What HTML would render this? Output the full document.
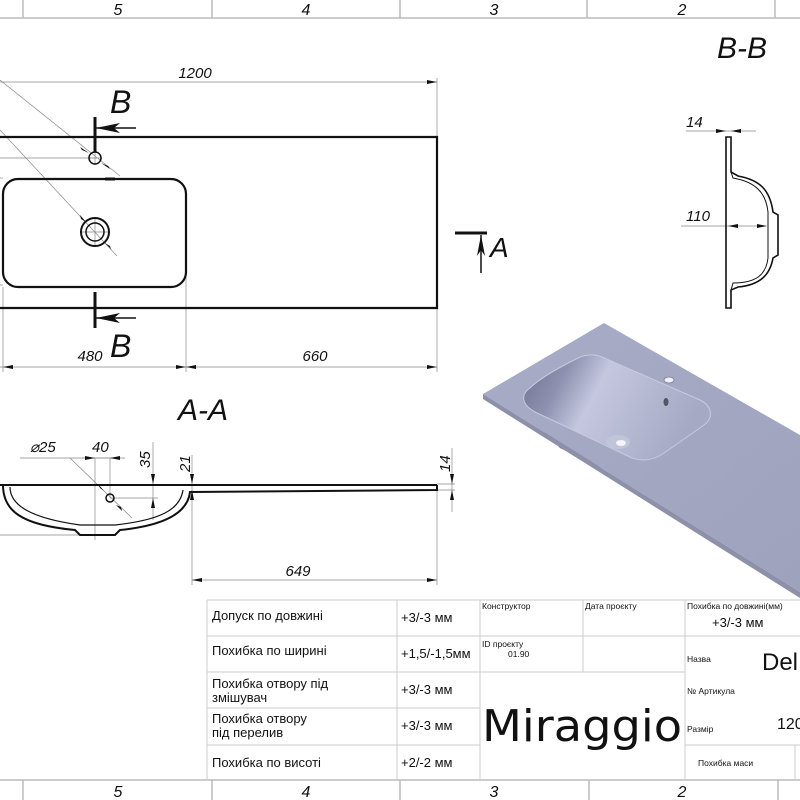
<!DOCTYPE html>
<html><head><meta charset="utf-8"><style>
html,body{margin:0;padding:0;background:#fff;}
svg{display:block;}
text{font-family:"Liberation Sans",sans-serif;}
.it{font-style:italic;}
.t{font-family:"DejaVu Sans Condensed","Liberation Sans Narrow","Liberation Sans",sans-serif;}
</style></head><body>
<svg width="800" height="800" viewBox="0 0 800 800" xmlns="http://www.w3.org/2000/svg">
<defs>
<linearGradient id="bg" x1="0" y1="0" x2="1" y2="0.3">
<stop offset="0" stop-color="#6d7190"/><stop offset="0.25" stop-color="#8e92b0"/><stop offset="0.45" stop-color="#c4c7de"/><stop offset="1" stop-color="#a6a9c4"/>
</linearGradient>
<linearGradient id="pg" x1="0" y1="0" x2="1" y2="1">
<stop offset="0" stop-color="#a9acc6"/><stop offset="1" stop-color="#9ea2bc"/>
</linearGradient>
</defs>
<!-- top strip -->
<g stroke="#bbb" stroke-width="1.5" fill="none">
<line x1="0" y1="18" x2="800" y2="18"/>
<line x1="23" y1="0" x2="23" y2="18"/><line x1="212" y1="0" x2="212" y2="18"/>
<line x1="400" y1="0" x2="400" y2="18"/><line x1="587" y1="0" x2="587" y2="18"/><line x1="775" y1="0" x2="775" y2="18"/>
<line x1="0" y1="780" x2="800" y2="780"/>
<line x1="23" y1="780" x2="23" y2="800"/><line x1="212" y1="780" x2="212" y2="800"/>
<line x1="400" y1="780" x2="400" y2="800"/><line x1="589" y1="780" x2="589" y2="800"/><line x1="778" y1="780" x2="778" y2="800"/>
</g>
<g class="it" font-size="16" text-anchor="middle" fill="#111">
<text x="118" y="15">5</text><text x="306" y="15">4</text><text x="494" y="15">3</text><text x="682" y="15">2</text>
<text x="118" y="797">5</text><text x="306" y="797">4</text><text x="494" y="797">3</text><text x="682" y="797">2</text>
</g>

<!-- plan view -->
<g stroke="#888" stroke-width="0.7" fill="none">
<line x1="0" y1="82" x2="437" y2="82"/>
<line x1="437" y1="78" x2="437" y2="137"/>
<line x1="0" y1="367" x2="437" y2="367"/>
<line x1="3" y1="287" x2="3" y2="372"/><line x1="186" y1="240" x2="186" y2="372"/><line x1="437" y1="308" x2="437" y2="372"/>
<line x1="0" y1="80" x2="120" y2="176"/><line x1="0" y1="130" x2="117" y2="256"/>
<line x1="0" y1="158" x2="95" y2="158"/><line x1="0" y1="178" x2="3" y2="178"/>
<line x1="0" y1="285" x2="3" y2="285"/>
<line x1="88" y1="158" x2="102" y2="158"/><line x1="95" y1="151" x2="95" y2="165"/>
<line x1="80" y1="232" x2="110" y2="232"/><line x1="95" y1="217" x2="95" y2="247"/>
</g>
<g fill="#111">
<polygon points="437,82 427,80 427,84"/>
<polygon points="3,367 13,365 13,369"/><polygon points="186,367 176,365 176,369"/>
<polygon points="186,367 196,365 196,369"/><polygon points="437,367 427,365 427,369"/>
<polygon points="89,153 80,147 82,150"/><polygon points="101,163 110,169 108,166"/>
<polygon points="86,222 80,215 81,219"/><polygon points="105,243 111,249 110,246"/>
</g>
<g stroke="#111" stroke-width="2.2" fill="none">
<path d="M0 137 H437 V308 H0"/>
<rect x="3" y="179" width="183" height="108" rx="15"/>
<circle cx="95" cy="158" r="6" stroke-width="1.5"/>
<circle cx="95" cy="232" r="14" stroke-width="2"/><circle cx="95" cy="232" r="9" stroke-width="1.5"/>
<line x1="95" y1="117" x2="95" y2="152" stroke-width="3"/>
<line x1="95" y1="292" x2="95" y2="328" stroke-width="3"/>
<line x1="95" y1="128" x2="136" y2="128" stroke-width="1.5"/>
<line x1="95" y1="318" x2="136" y2="318" stroke-width="1.5"/>
<line x1="105" y1="179" x2="115" y2="179" stroke-width="3"/>
</g>
<polygon points="96,128 120,123 114,128 120,133" fill="#111"/>
<polygon points="96,318 120,313 114,318 120,323" fill="#111"/>
<g class="it" fill="#111">
<text x="195" y="78" font-size="15" text-anchor="middle">1200</text>
<text x="90" y="361" font-size="15" text-anchor="middle">480</text>
<text x="315" y="361" font-size="15" text-anchor="middle">660</text>
<text x="110" y="113" font-size="32">B</text>
<text x="110" y="357" font-size="32">B</text>
<text x="178" y="420" font-size="30">A-A</text>
<text x="717" y="58" font-size="30">B-B</text>
<text x="490" y="257" font-size="28">A</text>
</g>
<!-- A marker -->
<g stroke="#111" fill="none">
<line x1="455" y1="233" x2="487" y2="233" stroke-width="3"/>
<line x1="481" y1="235" x2="481" y2="273" stroke-width="1.5"/>
</g>
<polygon points="481,235 477,256 481,250 485,256" fill="#111"/>

<!-- A-A section -->
<g stroke="#888" stroke-width="0.7" fill="none">
<line x1="20" y1="458" x2="120" y2="458"/>
<line x1="70" y1="458" x2="132" y2="518"/>
<line x1="95" y1="458" x2="95" y2="540"/><line x1="110" y1="458" x2="110" y2="498"/>
<line x1="82" y1="458" x2="125" y2="458"/>
<line x1="110" y1="498" x2="158" y2="498"/>
<line x1="153" y1="442" x2="153" y2="520"/>
<line x1="192" y1="455" x2="192" y2="585"/>
<line x1="192" y1="580" x2="437" y2="580"/>
<line x1="437" y1="490" x2="437" y2="585"/>
<line x1="437" y1="484" x2="455" y2="484"/><line x1="437" y1="490" x2="455" y2="490"/>
<line x1="452" y1="448" x2="452" y2="512"/>
<line x1="0" y1="535" x2="80" y2="535"/>
<line x1="140" y1="485" x2="170" y2="485"/>
</g>
<g fill="#111">
<polygon points="192,580 202,578 202,582"/><polygon points="437,580 427,578 427,582"/>
<polygon points="153,484 151,474 155,474"/><polygon points="153,498 151,508 155,508"/>
<polygon points="192,484 190,474 194,474"/><polygon points="192,490 190,500 194,500"/>
<polygon points="452,484 450,474 454,474"/><polygon points="452,490 450,500 454,500"/>
<polygon points="95,458 85,456 85,460"/><polygon points="110,458 120,456 120,460"/>
<polygon points="104,491 98,484 100,488"/><polygon points="116,505 122,511 121,507"/>
</g>
<g stroke="#111" stroke-width="2" fill="none">
<line x1="0" y1="485" x2="437" y2="485"/>
<path d="M3 485 C3 510 20 525 75 530 L80 535 L115 535 L120 530 C170 525 188 510 190 492 L437 490 L437 485"/>
<path d="M10 487 C10 505 30 518 80 525 L115 525 C160 520 180 510 183 490" stroke-width="1.2"/>
<circle cx="110" cy="498" r="4" stroke-width="1.5"/>
</g>
<g class="it" fill="#111" font-size="15">
<text x="30" y="452">⌀25</text>
<text x="92" y="452">40</text>
<text x="150" y="468" transform="rotate(-90 150 468)">35</text>
<text x="190" y="472" transform="rotate(-90 190 472)">21</text>
<text x="450" y="472" transform="rotate(-90 450 472)">14</text>
<text x="298" y="576" text-anchor="middle">649</text>
<text x="686" y="127">14</text>
<text x="686" y="221">110</text>
</g>

<!-- B-B section -->
<g stroke="#888" stroke-width="0.7" fill="none">
<line x1="686" y1="131" x2="756" y2="131"/>
<line x1="681" y1="226" x2="766" y2="226"/>
</g>
<g fill="#111">
<polygon points="726,131 716,129 716,133"/><polygon points="731,131 741,129 741,133"/>
<polygon points="728,226 738,224 738,228"/><polygon points="767,226 757,224 757,228"/>
</g>
<g stroke="#111" stroke-width="1.6" fill="none">
<path d="M726 137 V308 H731 V290 L738 287 C760 285 770 275 773 258 L778 255 V215 L773 212 C770 190 760 180 738 176 L731 172 V137 Z"/>
<path d="M731 172 L733 178 C756 182 766 193 768 212 L768 258 C766 275 756 283 733 283 L731 290" stroke-width="1"/>
</g>

<!-- 3D -->
<polygon points="540,428 560,448 610,472 640,475 600,455" fill="#3e4258" opacity="0.8"/>
<polygon points="483,394 604,323 800,435 800,592" fill="url(#pg)"/>
<polygon points="483,394 800,592 800,598 483,399" fill="#8d90a8"/>
<path d="M530,388 C540,378 560,367 578,358 C586,354 594,354 602,357 L700,400 C712,406 714,418 704,425 L664,453 C654,460 644,462 632,458 L535,412 C522,405 520,395 530,388 Z" fill="url(#bg)" stroke="#c8cade" stroke-width="1"/>
<ellipse cx="669" cy="380" rx="5" ry="3" fill="#eef" stroke="#7a7e98" stroke-width="0.8"/>
<ellipse cx="666" cy="402" rx="2.5" ry="4" fill="#556"/>
<ellipse cx="618" cy="442" rx="12" ry="7" fill="#c2c5da"/>
<ellipse cx="621" cy="443" rx="5" ry="3" fill="#f4f4fa"/>

<!-- table -->
<g stroke="#ccc" stroke-width="1" fill="none">
<line x1="207" y1="600" x2="800" y2="600"/>
<line x1="207" y1="636" x2="480" y2="636"/><line x1="207" y1="672" x2="480" y2="672"/>
<line x1="207" y1="708" x2="480" y2="708"/><line x1="207" y1="745" x2="480" y2="745"/>
<line x1="480" y1="636" x2="685" y2="636"/><line x1="480" y1="672" x2="685" y2="672"/>
<line x1="685" y1="636" x2="800" y2="636"/><line x1="685" y1="745" x2="800" y2="745"/>
<line x1="207" y1="600" x2="207" y2="780"/><line x1="397" y1="600" x2="397" y2="780"/>
<line x1="480" y1="600" x2="480" y2="780"/><line x1="583" y1="600" x2="583" y2="672"/>
<line x1="685" y1="600" x2="685" y2="780"/><line x1="795" y1="745" x2="795" y2="780"/>
</g>
<g class="t" fill="#111" font-size="13">
<text x="212" y="620">Допуск по довжині</text>
<text x="212" y="655">Похибка по ширині</text>
<text x="212" y="688">Похибка отвору під</text>
<text x="212" y="702">змішувач</text>
<text x="212" y="723">Похибка отвору</text>
<text x="212" y="737">під перелив</text>
<text x="212" y="767">Похибка по висоті</text>
<text x="401" y="622">+3/-3 мм</text>
<text x="401" y="658">+1,5/-1,5мм</text>
<text x="401" y="694">+3/-3 мм</text>
<text x="401" y="730">+3/-3 мм</text>
<text x="401" y="767">+2/-2 мм</text>
<text x="712" y="627">+3/-3 мм</text>
<text x="762" y="670" font-size="24">Del</text>
<text x="777" y="729" font-size="16">120</text>
</g>
<g class="t" fill="#111" font-size="8.5">
<text x="482" y="609">Конструктор</text>
<text x="585" y="609">Дата проєкту</text>
<text x="687" y="609">Похибка по довжині(мм)</text>
<text x="482" y="647">ID проєкту</text>
<text x="508" y="657">01.90</text>
<text x="687" y="662">Назва</text>
<text x="687" y="694">№ Артикула</text>
<text x="687" y="732">Размір</text>
<text x="698" y="766">Похибка маси</text>
</g>
<text x="482" y="741" class="t" font-size="44" fill="#111" textLength="200" lengthAdjust="spacingAndGlyphs">Miraggio</text>
</svg>
</body></html>
